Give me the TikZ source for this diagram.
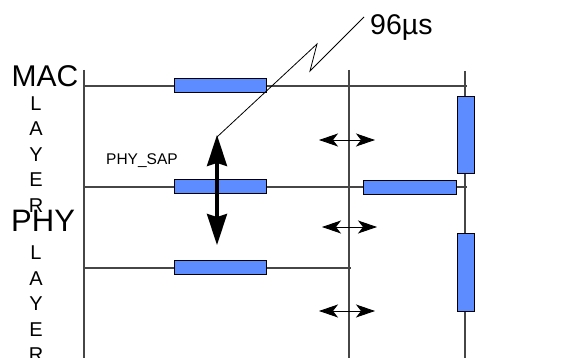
\documentclass[tikz,border=0pt]{standalone}
\usepackage{fontspec}
\setmainfont{Liberation Sans}
\usetikzlibrary{arrows.meta}
\definecolor{boxblue}{RGB}{92,140,255}
\definecolor{linegray}{RGB}{70,70,70}
\tikzset{
  wire/.style={draw=linegray, line width=1.1pt},
  hbox/.style={draw=black, fill=boxblue, line width=1pt, minimum width=92pt, minimum height=14pt, inner sep=0pt},
  vbox/.style={draw=black, fill=boxblue, line width=1pt, minimum width=17pt, minimum height=77pt, inner sep=0pt},
  gap/.style={line width=0.8pt, {Stealth[length=19pt,width=13pt,inset=5pt]}-{Stealth[length=19pt,width=13pt,inset=5pt]}},
  sap/.style={line width=3.2pt, {Stealth[length=31pt,width=20pt,inset=3pt]}-{Stealth[length=31pt,width=20pt,inset=3pt]}},
  leader/.style={draw=black, line width=0.8pt},
  big/.style={font=\fontsize{30}{30}\selectfont, inner sep=0pt, anchor=base west},
  letter/.style={font=\fontsize{20}{20}\selectfont, inner sep=0pt, anchor=base},
}
\begin{document}
\begin{tikzpicture}[x=1pt, y=-1pt]
\useasboundingbox (0,0) rectangle (574,358);
% grid coordinates
\coordinate (l0) at (84,70);
\coordinate (l1) at (84,358);
\coordinate (m0) at (349,70);
\coordinate (m1) at (349,358);
\coordinate (r0) at (465,71);
\coordinate (r1) at (465,358);
\coordinate (h1a) at (84,86);
\coordinate (h1b) at (467,86);
\coordinate (h2a) at (84,187);
\coordinate (h2b) at (467,187);
\coordinate (h3a) at (84,268);
\coordinate (h3b) at (351,268);
\draw[wire] (l0) -- (l1);
\draw[wire] (m0) -- (m1);
\draw[wire] (r0) -- (r1);
\draw[wire] (h1a) -- (h1b);
\draw[wire] (h2a) -- (h2b);
\draw[wire] (h3a) -- (h3b);
% boxes
\node[hbox] (b1) at (220,86) {};
\node[hbox] (b2) at (220,187) {};
\node[hbox] (b3) at (220,268) {};
\node[hbox, minimum width=93pt] (b4) at (409.5,188) {};
\node[vbox] (v1) at (465.5,135.5) {};
\node[vbox, minimum height=78pt] (v2) at (465.5,273) {};
% gap arrows
\coordinate (g1a) at (319,140); \coordinate (g1b) at (375,140);
\coordinate (g2a) at (322,227); \coordinate (g2b) at (377,227);
\coordinate (g3a) at (319,311); \coordinate (g3b) at (375,311);
\draw[gap] (g1a) -- (g1b);
\draw[gap] (g2a) -- (g2b);
\draw[gap] (g3a) -- (g3b);
% PHY_SAP arrow
\coordinate (sapTop) at (217,135);
\coordinate (sapBot) at (217,245);
\draw[sap] (sapTop) -- (sapBot);
% 96us leader
\node[inner sep=0pt, anchor=base west, font=\fontsize{28.5}{28.5}\selectfont] (t96) at (370,35) {96µs};
\coordinate (k0) at (217,137);
\coordinate (k1) at (317,44);
\coordinate (k2) at (310,71);
\coordinate (k3) at (364,17);
\draw[leader] (k0) -- (k1) -- (k2) -- (k3);
% labels
\node[big] (mac) at (11.5,87) {MAC};
\node[big, font=\fontsize{31}{31}\selectfont] (phy) at (11,232) {PHY};
\node[inner sep=0pt, anchor=base west, font=\fontsize{15.5}{15.5}\selectfont] (sapl) at (106,165) {PHY\_SAP};
\foreach \ch [count=\i] in {L,A,Y,E,R} {
  \node[letter] (ua\i) at (36,{110.5+25.5*(\i-1)}) {\ch};
  \node[letter] (ub\i) at (36,{260+25.5*(\i-1)}) {\ch};
}
\end{tikzpicture}
\end{document}
